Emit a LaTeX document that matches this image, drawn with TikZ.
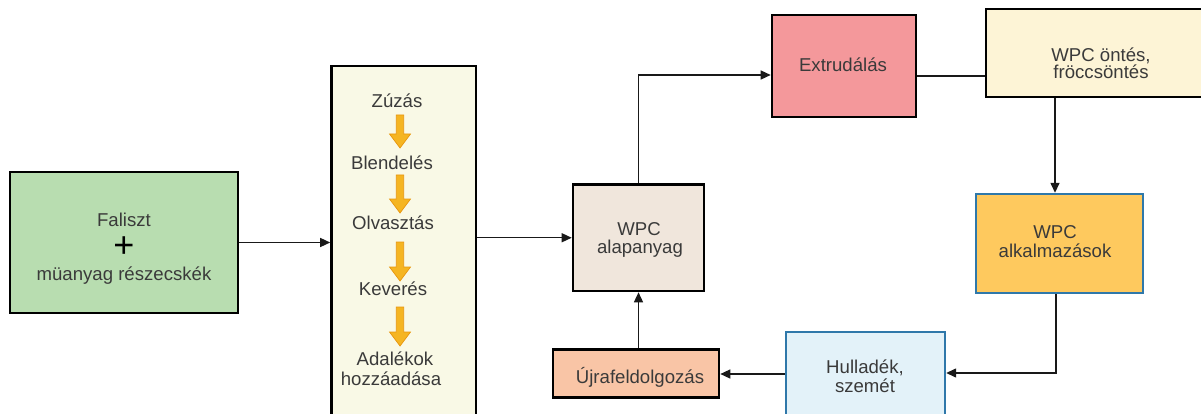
\documentclass[tikz,border=0pt]{standalone}
\usepackage{fontspec}
\setmainfont{Liberation Sans}
\usetikzlibrary{arrows.meta}
\definecolor{txt}{HTML}{3A3A3A}
\definecolor{cgreen}{HTML}{B8DDB0}
\definecolor{ctall}{HTML}{F9F9E6}
\definecolor{calap}{HTML}{F0E6DC}
\definecolor{cextr}{HTML}{F4989B}
\definecolor{conts}{HTML}{FDF4D6}
\definecolor{calk}{HTML}{FEC95E}
\definecolor{chull}{HTML}{E3F2F9}
\definecolor{cujra}{HTML}{F9C5A6}
\definecolor{cblue}{HTML}{2F78AA}
\definecolor{corange}{HTML}{F5B522}
\definecolor{corangedark}{HTML}{E8960E}
\begin{document}
\begin{tikzpicture}[x=1pt,y=-1pt,
  box/.style={draw=black,line width=2.6pt,inner sep=0pt,minimum width=#1},
  bluebox/.style={draw=cblue,line width=2.4pt,inner sep=0pt,minimum width=#1},
  lbl/.style={anchor=base,inner sep=0pt,text=txt,font=\fontsize{18.6}{21}\selectfont},
  conn/.style={line width=1.4pt,draw=black!90},
  arr/.style={conn,-{Triangle[length=10pt,width=9pt]}},
  stepflow/.style={fill=corange,draw=corangedark,line width=0.7pt,line join=miter}]
\useasboundingbox (0,0) rectangle (1201,414);
\fill[white] (0,0) rectangle (1201,414);
% boxes
\node[box=228pt,minimum height=141pt,fill=cgreen] (green) at (124,242.5) {};
\node[box=144.5pt,minimum height=364pt,fill=ctall] (tall) at (403.75,248) {};
\node[box=131pt,minimum height=106.5pt,fill=calap] (alap) at (638.5,237.75) {};
\node[box=144pt,minimum height=102pt,fill=cextr] (extr) at (844,66) {};
\node[box=230pt,minimum height=88pt,fill=conts] (onts) at (1101,53) {};
\node[bluebox=167pt,minimum height=99pt,fill=calk] (alk) at (1059.5,243.5) {};
\node[bluebox=159pt,minimum height=98pt,fill=chull] (hull) at (865.5,381) {};
\node[box=166pt,minimum height=48pt,fill=cujra] (ujra) at (636,373.5) {};
% texts
\node[lbl] (t1) at (124,226) {Faliszt};
\node[anchor=center,inner sep=0pt,text=black,font=\fontsize{36}{36}\selectfont] (tplus) at (124,247) {+};
\node[lbl] (t2) at (124,280) {müanyag részecskék};
\node[lbl] (s1) at (397,108) {Zúzás};
\node[lbl] (s2) at (392,170) {Blendelés};
\node[lbl] (s3) at (393,229) {Olvasztás};
\node[lbl] (s4) at (393,295) {Keverés};
\node[lbl] (s5) at (395,365) {Adalékok};
\node[lbl] (s6) at (391,385) {hozzáadása};
\node[lbl] (a1) at (639,235) {WPC};
\node[lbl] (a2) at (640,253) {alapanyag};
\node[lbl] (e1) at (843,72) {Extrudálás};
\node[lbl] (o1) at (1101,62) {WPC öntés,};
\node[lbl] (o2) at (1101,79) {fröccsöntés};
\node[lbl] (k1) at (1055,238) {WPC};
\node[lbl] (k2) at (1055,257) {alkalmazások};
\node[lbl] (h1) at (865,373) {Hulladék,};
\node[lbl] (h2) at (865,392) {szemét};
\node[lbl] (u1) at (640,383) {Újrafeldolgozás};
% orange step arrows
\foreach \t/\b in {115/148,175/213,242/281,307/346}{
  \draw[stepflow] (396.3,\t) -- (403.7,\t) -- (403.7,\b-14) -- (410.5,\b-14) -- (400,\b)
    -- (389.5,\b-14) -- (396.3,\b-14) -- cycle;
}
% connectors
\draw[arr] (green.east) -- (green.east -| tall.west);
\draw[arr] (tall.east |- alap.west) -- (alap.west);
\draw[arr] (alap.north) |- ([yshift=-9pt]extr.west);
\draw[conn] ([yshift=-10pt]extr.east) -- ([yshift=-10pt]extr.east -| onts.west);
\draw[arr] ([xshift=-4.5pt]alk.north |- onts.south) -- ([xshift=-4.5pt]alk.north);
\draw[arr] ([xshift=-3.5pt]alk.south) |- ([yshift=8pt]hull.east);
\draw[arr] ([yshift=7pt]hull.west) -- ([yshift=7pt]hull.west -| ujra.east);
\draw[arr] (alap.south |- ujra.north) -- (alap.south);
\end{tikzpicture}
\end{document}
